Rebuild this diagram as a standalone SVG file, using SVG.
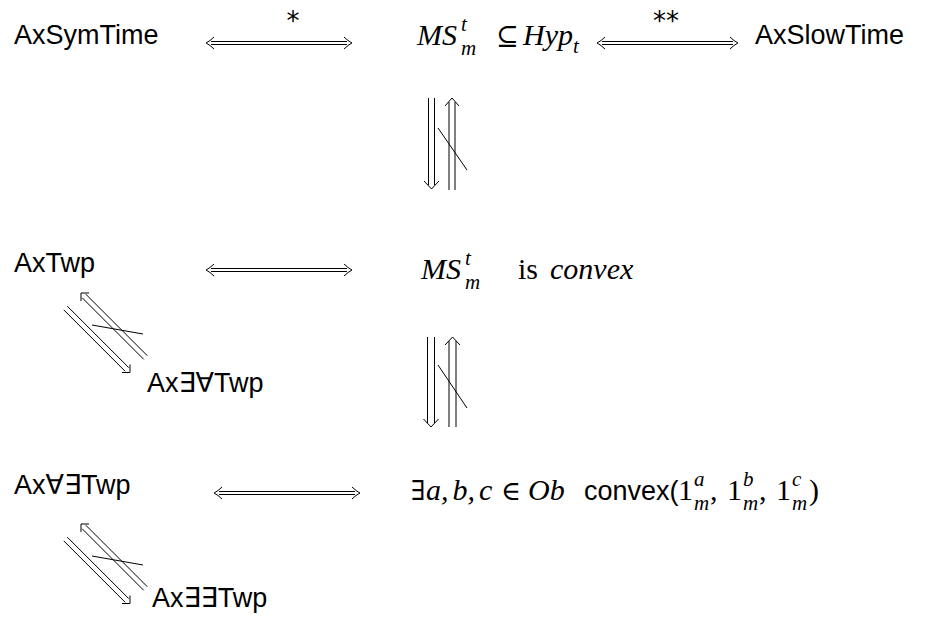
<svg xmlns="http://www.w3.org/2000/svg" width="935" height="620" viewBox="0 0 935 620">
<style>
.sans{font-family:"Liberation Sans","DejaVu Sans",sans-serif;font-size:27px;fill:#000}
.mi{font-family:"Liberation Serif","DejaVu Serif",serif;font-style:italic;font-size:30px;fill:#000}
.mr{font-family:"Liberation Serif","DejaVu Serif",serif;font-size:30px;fill:#000}
.sym{font-family:"DejaVu Serif",serif;font-size:27px;fill:#000}
.si{font-family:"Liberation Serif","DejaVu Serif",serif;font-style:italic;font-size:21px;fill:#000}
.lab{font-family:"DejaVu Sans",sans-serif;font-size:26px;fill:#000}
.ln{stroke:#000;stroke-width:1;fill:none}
</style>
<rect width="935" height="620" fill="#fff"/>
<g id="AxSymTime"><text class="sans" x="14" y="44">AxSymTime</text></g>
<g id="MSsubHyp">
<text class="mi" x="417" y="45">MS</text>
<text class="si" x="461" y="31">t</text>
<text class="si" x="461" y="55">m</text>
<text class="sym" x="496" y="45">⊆</text>
<text class="mi" x="523" y="45">Hyp</text>
<text class="si" x="573" y="53">t</text>
</g>
<g id="AxSlowTime"><text class="sans" x="755" y="44">AxSlowTime</text></g>
<g id="AxTwp"><text class="sans" x="14" y="272">AxTwp</text></g>
<g id="MSconvex">
<text class="mi" x="421" y="279">MS</text>
<text class="si" x="465" y="265">t</text>
<text class="si" x="465" y="289">m</text>
<text class="mr" x="518" y="279">is</text>
<text class="mi" x="550" y="279">convex</text>
</g>
<g id="AxEATwp"><text class="sans" x="147" y="392">Ax∃∀Twp</text></g>
<g id="AxAETwp"><text class="sans" x="14" y="494">Ax∀∃Twp</text></g>
<g id="ExistsConvex">
<text class="sym" x="411" y="500">∃</text>
<text class="mi" x="426" y="500">a<tspan class="mr">,</tspan><tspan dx="4">b</tspan><tspan class="mr">,</tspan><tspan dx="4">c</tspan></text>
<text class="sym" x="501" y="500">∈</text>
<text class="mi" x="528" y="500">Ob</text>
<text class="sans" x="584" y="500">convex(</text>
<text class="mr" x="678" y="500">1</text>
<text class="si" x="694" y="486">a</text>
<text class="si" x="694" y="510">m</text>
<text class="mr" x="710" y="500">,</text>
<text class="mr" x="727" y="500">1</text>
<text class="si" x="743" y="486">b</text>
<text class="si" x="743" y="510">m</text>
<text class="mr" x="759" y="500">,</text>
<text class="mr" x="776" y="500">1</text>
<text class="si" x="792" y="486">c</text>
<text class="si" x="792" y="510">m</text>
<text class="mr" x="809" y="500">)</text>
</g>
<g id="AxEETwp"><text class="sans" x="152" y="607">Ax∃∃Twp</text></g>
<g id="connectors">
<g id="h1">
<path class="ln" d="M211,41.5H347M211,44.5H347"/>
<path class="ln" d="M214,37Q210,41 206,43Q210,45 214,49M344,37Q348,41 352,43Q348,45 344,49"/>
<text class="lab" x="293" y="30" text-anchor="middle">*</text>
</g>
<g id="h2">
<path class="ln" d="M602,41.5H733M602,44.5H733"/>
<path class="ln" d="M605,37Q601,41 597,43Q601,45 605,49M730,37Q734,41 738,43Q734,45 730,49"/>
<text class="lab" x="666" y="30" text-anchor="middle">**</text>
</g>
<g id="h3">
<path class="ln" d="M211,268.5H347M211,271.5H347"/>
<path class="ln" d="M214,264Q210,268 206,270Q210,272 214,276M344,264Q348,268 352,270Q348,272 344,276"/>
</g>
<g id="h4">
<path class="ln" d="M219,491.5H355M219,494.5H355"/>
<path class="ln" d="M222,487Q218,491 214,493Q218,495 222,499M352,487Q356,491 360,493Q356,495 352,499"/>
</g>
<g id="v1">
<path class="ln" d="M428.5,98V185M434.5,98V185M424,181L431.5,189L439,181"/>
<path class="ln" d="M449,190V102M455,190V102M445,106L452,98L459,106"/>
<path class="ln" d="M438,128L467,170"/>
</g>
<g id="v2">
<path class="ln" d="M427.5,337V423M434.5,337V423M423.5,419L431,427L438.5,419"/>
<path class="ln" d="M449,427V341M456,427V341M445,345L452.5,337L460,345"/>
<path class="ln" d="M438,365L467,408"/>
</g>
<g id="d1">
<path class="ln" d="M63.7,309.8L125.2,371.3M67.3,306.2L128.8,367.7M122,372.5H130V364.5"/>
<path class="ln" d="M85.8,294.2L147.3,355.7M82.2,297.8L143.7,359.3M89,293H81V301"/>
<path class="ln" d="M92,325L143,334"/>
</g>
<g id="d2">
<path class="ln" d="M63.7,540.8L125.2,602.3M67.3,537.2L128.8,598.7M122,603.5H130V595.5"/>
<path class="ln" d="M85.8,525.2L147.3,586.7M82.2,528.8L143.7,590.3M89,524H81V532"/>
<path class="ln" d="M92,556L143,565"/>
</g>
</g>
</svg>
